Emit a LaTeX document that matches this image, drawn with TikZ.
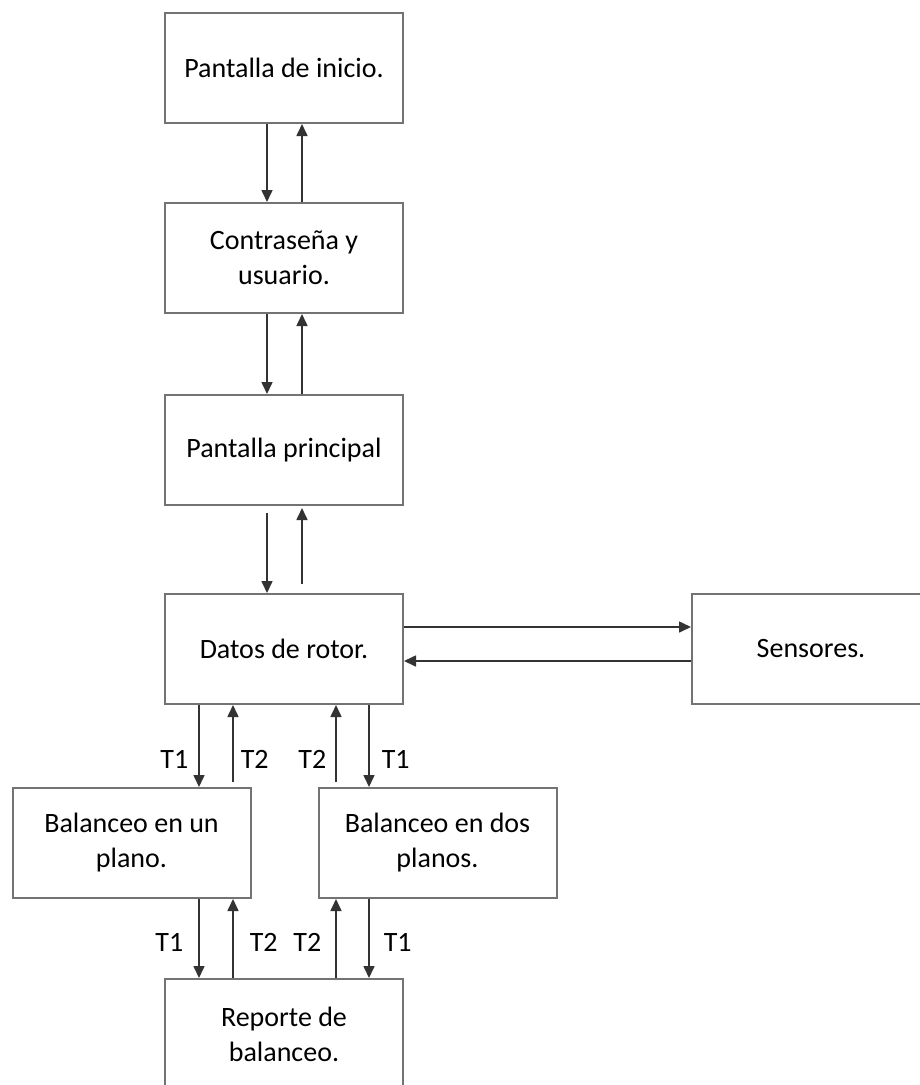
\documentclass[tikz,border=0pt]{standalone}
\usepackage{fontspec}
\setmainfont{Carlito}
\usetikzlibrary{arrows.meta}

\tikzset{
  box/.style={shape=rectangle,draw=black!55,line width=2pt,minimum width=238pt,minimum height=110pt,
    align=center,font=\fontsize{28}{35}\selectfont},
  flow/.style={-{Triangle[length=12pt,width=11pt]},line width=1.6pt,color=black!80},
  tag/.style={font=\fontsize{28}{35}\selectfont,inner sep=0pt,text=black}
}

\begin{document}
\begin{tikzpicture}[x=1pt,y=-1pt]
      \useasboundingbox (0,0) rectangle (920,1085);
      \clip (0,0) rectangle (920,1085);
      \node[box] (0) at (284,68) {Pantalla de inicio.};
      \node[box] (1) at (284,258) {Contraseña y\\usuario.};
      \node[box] (2) at (284,450) {Pantalla principal};
      \node[box] (3) at (284,649) {Datos de rotor.};
      \node[box] (4) at (811,649) {Sensores.};
      \node[box] (5) at (131.5,843) {Balanceo en un\\plano.};
      \node[box] (6) at (437.5,843) {Balanceo en dos\\planos.};
      \node[box] (7) at (284,1034) {Reporte de\\balanceo.};
      % ida y vuelta por la columna central
      \path [flow] ([xshift=-17pt]0.south) edge ([xshift=-17pt]1.north) ;
      \path [flow] ([xshift=18pt]1.north) edge ([xshift=18pt]0.south) ;
      \path [flow] ([xshift=-17pt]1.south) edge ([xshift=-17pt]2.north) ;
      \path [flow] ([xshift=18pt]2.north) edge ([xshift=18pt]1.south) ;
      \path [flow,shorten <=7pt] ([xshift=-17pt]2.south) edge ([xshift=-17pt]3.north) ;
      \path [flow,shorten <=9pt,shorten >=2pt] ([xshift=18pt]3.north) edge ([xshift=18pt]2.south) ;
      % sensores
      \path [flow] ([yshift=22pt]3.east) edge ([yshift=22pt]4.west) ;
      \path [flow] ([yshift=-12pt]4.west) edge ([yshift=-12pt]3.east) ;
      % balanceo
      \path [flow] ([xshift=-85pt]3.south) edge node[tag,pos=0.66,left=10pt] {T1} ([xshift=-85pt]3.south |- 5.north) ;
      \path [flow,shorten <=5pt] ([xshift=-51pt]3.south |- 5.north) edge node[tag,pos=0.34,right=7pt] {T2} ([xshift=-51pt]3.south) ;
      \path [flow,shorten <=5pt] ([xshift=52pt]3.south |- 6.north) edge node[tag,pos=0.34,left=9pt] {T2} ([xshift=52pt]3.south) ;
      \path [flow] ([xshift=85pt]3.south) edge node[tag,pos=0.66,right=12pt] {T1} ([xshift=85pt]3.south |- 6.north) ;
      % reporte
      \path [flow] ([xshift=-85pt]7.north |- 5.south) edge node[tag,pos=0.55,left=15pt] {T1} ([xshift=-85pt]7.north) ;
      \path [flow] ([xshift=-51pt]7.north) edge node[tag,pos=0.45,right=16pt] {T2} ([xshift=-51pt]7.north |- 5.south) ;
      \path [flow] ([xshift=52pt]7.north) edge node[tag,pos=0.45,left=14pt] {T2} ([xshift=52pt]7.north |- 6.south) ;
      \path [flow] ([xshift=85pt]7.north |- 6.south) edge node[tag,pos=0.55,right=14pt] {T1} ([xshift=85pt]7.north) ;
\end{tikzpicture}
\end{document}
